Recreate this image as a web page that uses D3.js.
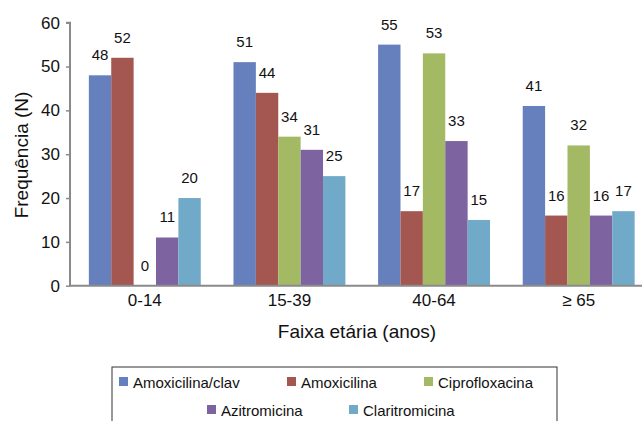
<!DOCTYPE html>
<html>
<head>
<meta charset="utf-8">
<script src="https://cdn.jsdelivr.net/npm/d3@7"></script>
<style>
  body { margin: 0; background: #fff; }
  text { font-family: "Liberation Sans", Arial, sans-serif; fill: #111; }
</style>
</head>
<body>
<div id="chart"></div>
<script>
// data
const categories = ['0-14', '15-39', '40-64', '\u2265 65'];
const series = ['Amoxicilina/clav', 'Amoxicilina', 'Ciprofloxacina', 'Azitromicina', 'Claritromicina'];
const amoxClav = [48, 51, 55, 41];
const amox = [52, 44, 17, 16];
const cipro = [0, 34, 53, 32];
const azitro = [11, 31, 33, 16];
const claritro = [20, 25, 15, 17];
const yTicks = [0, 10, 20, 30, 40, 50, 60];
const colors = ['#6580bc', '#a45650', '#a3b963', '#7d63a0', '#70aac8'];

const values = [amoxClav, amox, cipro, azitro, claritro];

const width = 642, height = 421;

const svg = d3.select('#chart').append('svg')
  .attr('width', width)
  .attr('height', height);

// set the ranges
const x = d3.scaleBand().domain(categories).range([72.5, 651]);
const bw = x.bandwidth();
const gap = 32.7;
const xInner = d3.scaleBand().domain(series).range([gap / 2, bw - gap / 2]);
const y = d3.scaleLinear().domain([0, 60]).range([285.7, 22.7]);

// bars + value labels
categories.forEach(function(c, ci) {
  const g = svg.append('g').attr('transform', 'translate(' + x(c) + ',0)');
  series.forEach(function(s, si) {
    const v = values[si][ci];
    g.append('rect')
      .attr('x', xInner(s))
      .attr('y', y(v))
      .attr('width', xInner.bandwidth())
      .attr('height', y(0) - y(v))
      .attr('fill', colors[si]);
    g.append('text')
      .attr('x', xInner(s) + xInner.bandwidth() / 2)
      .attr('y', y(v) - 15)
      .attr('text-anchor', 'middle')
      .style('font-size', '15px')
      .text(v);
  });
});

// Y axis
const yAxis = svg.append('g')
  .attr('transform', 'translate(70,0)')
  .call(d3.axisLeft(y).tickValues(yTicks).tickSize(4).tickPadding(6));
yAxis.selectAll('line').attr('stroke', '#8a8a8a').attr('stroke-width', 1.5);
yAxis.select('.domain').attr('stroke', '#8a8a8a').attr('stroke-width', 2)
  .attr('d', 'M-4,' + y(60) + 'H0V' + y(0));
yAxis.selectAll('text').style('font-size', '17px').style('font-family', '"Liberation Sans", Arial, sans-serif').attr('fill', '#111');

// X axis
const xAxis = svg.append('g')
  .attr('transform', 'translate(0,' + y(0) + ')')
  .call(d3.axisBottom(x).tickSize(0).tickPadding(8));
xAxis.select('.domain').attr('stroke', '#8a8a8a').attr('stroke-width', 2)
  .attr('d', 'M69,0H651');
xAxis.selectAll('text').style('font-size', '17px').style('font-family', '"Liberation Sans", Arial, sans-serif').attr('fill', '#111');

// axis titles
svg.append('text')
  .attr('transform', 'translate(28,155) rotate(-90)')
  .attr('text-anchor', 'middle')
  .style('font-size', '19px')
  .text('Frequência (N)');

svg.append('text')
  .attr('x', 357)
  .attr('y', 338)
  .attr('text-anchor', 'middle')
  .style('font-size', '19px')
  .text('Faixa etária (anos)');

// legend
svg.append('rect')
  .attr('x', 112).attr('y', 367)
  .attr('width', 445).attr('height', 60)
  .attr('fill', 'none')
  .attr('stroke', '#333')
  .attr('stroke-width', 1);

const legendPos = [[119, 382], [287, 382], [424, 382], [207, 410], [349, 410]];
series.forEach(function(s, i) {
  const p = legendPos[i];
  svg.append('rect')
    .attr('x', p[0]).attr('y', p[1] - 5)
    .attr('width', 9).attr('height', 9)
    .attr('fill', colors[i]);
  svg.append('text')
    .attr('x', p[0] + 14)
    .attr('y', p[1] + 6)
    .style('font-size', '15px')
    .text(s);
});
</script>
</body>
</html>
